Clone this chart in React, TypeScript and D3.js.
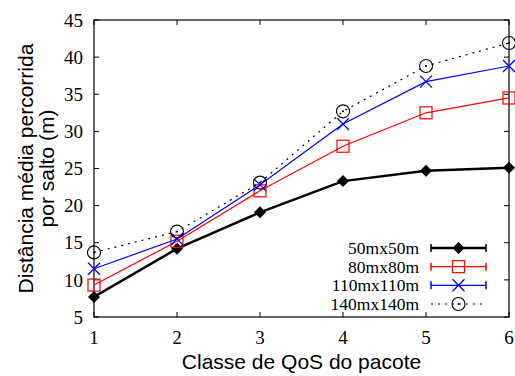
import React from 'react';
import * as d3 from 'd3';

const width = 515;
const height = 376;
const margin = { top: 20, right: 6, bottom: 59, left: 94 };

const classes = [1, 2, 3, 4, 5, 6];
const s50 = [7.7, 14.2, 19.1, 23.3, 24.7, 25.1];
const s80 = [9.3, 15.2, 22.0, 28.0, 32.5, 34.5];
const s110 = [11.5, 15.5, 22.8, 31.0, 36.7, 38.8];
const s140 = [13.7, 16.5, 23.1, 32.7, 38.8, 41.9];
const seriesNames = ['50mx50m', '80mx80m', '110mx110m', '140mx140m'];
const yTicks = [5, 10, 15, 20, 25, 30, 35, 40, 45];

const series = [
	{ name: seriesNames[0], values: s50, color: '#000', width: 2.5, dash: null, marker: 'diamond' },
	{ name: seriesNames[1], values: s80, color: '#ff0000', width: 1.2, dash: null, marker: 'square' },
	{ name: seriesNames[2], values: s110, color: '#0000ff', width: 1.2, dash: null, marker: 'cross' },
	{ name: seriesNames[3], values: s140, color: '#000', width: 1.2, dash: '2,5', marker: 'circle' }
];

const x = d3
	.scaleLinear()
	.domain([1, 6])
	.range([margin.left, width - margin.right]);
const y = d3
	.scaleLinear()
	.domain([5, 45])
	.range([height - margin.bottom, margin.top]);

const line = d3
	.line<number>()
	.x((d, i) => x(classes[i]))
	.y(d => y(d));

// legend rows spread evenly
const legendRow = d3.scalePoint<number>().domain([0, 1, 2, 3]).range([248, 304]);

function Marker({ type, cx, cy, color }) {
	if (type === 'diamond') {
		const r = 6;
		return <path d={`M${cx},${cy - r}L${cx + r},${cy}L${cx},${cy + r}L${cx - r},${cy}Z`} fill={color} />;
	}
	if (type === 'square') {
		return <rect x={cx - 6} y={cy - 6} width={12} height={12} fill="none" stroke={color} strokeWidth={1.2} />;
	}
	if (type === 'cross') {
		const r = 6;
		return (
			<path
				d={`M${cx - r},${cy - r}L${cx + r},${cy + r}M${cx - r},${cy + r}L${cx + r},${cy - r}`}
				stroke={color}
				strokeWidth={1.3}
			/>
		);
	}
	return (
		<g>
			<circle cx={cx} cy={cy} r={6.5} fill="none" stroke={color} strokeWidth={1.1} />
			<circle cx={cx} cy={cy} r={1} fill={color} />
		</g>
	);
}

export default function App() {
	const x0 = margin.left;
	const x1 = width - margin.right;
	const y0 = height - margin.bottom;
	const y1 = margin.top;
	const tick = 5;
	const serif = 'Liberation Serif, Times New Roman, serif';
	const sans = 'Liberation Sans, Arial, sans-serif';
	const legendTextX = 419;
	const legendLineX = [431, 486];

	return (
		<svg width={width} height={height} style={{ position: 'absolute', left: 0, top: 0 }}>
			{/* frame and mirrored ticks */}
			<rect x={x0} y={y1} width={x1 - x0} height={y0 - y1} fill="none" stroke="#000" strokeWidth={1.2} />
			{yTicks.map(t => (
				<g key={'y' + t}>
					<line x1={x0} x2={x0 + tick} y1={y(t)} y2={y(t)} stroke="#000" />
					<line x1={x1} x2={x1 - tick} y1={y(t)} y2={y(t)} stroke="#000" />
					<text x={x0 - 11} y={y(t)} dy="0.35em" textAnchor="end" fontFamily={serif} fontSize={19}>
						{t}
					</text>
				</g>
			))}
			{classes.map(c => (
				<g key={'x' + c}>
					<line x1={x(c)} x2={x(c)} y1={y0} y2={y0 - tick} stroke="#000" />
					<line x1={x(c)} x2={x(c)} y1={y1} y2={y1 + tick} stroke="#000" />
					<text x={x(c)} y={y0 + 27} textAnchor="middle" fontFamily={serif} fontSize={19}>
						{c}
					</text>
				</g>
			))}

			{/* series */}
			{series.map(s => (
				<g key={s.name}>
					<path
						d={line(s.values)}
						fill="none"
						stroke={s.color}
						strokeWidth={s.width}
						strokeDasharray={s.dash || undefined}
					/>
					{s.values.map((v, i) => (
						<Marker key={i} type={s.marker} cx={x(classes[i])} cy={y(v)} color={s.color} />
					))}
				</g>
			))}

			{/* legend */}
			{series.map((s, i) => {
				const ly = legendRow(i);
				return (
					<g key={'lg' + s.name}>
						<text x={legendTextX} y={ly} dy="0.35em" textAnchor="end" fontFamily={serif} fontSize={17.5}>
							{s.name}
						</text>
						<line
							x1={legendLineX[0]}
							x2={legendLineX[1]}
							y1={ly}
							y2={ly}
							stroke={s.color}
							strokeWidth={s.width}
							strokeDasharray={s.dash || undefined}
						/>
						{!s.dash && (
							<g>
								<line x1={legendLineX[0]} x2={legendLineX[0]} y1={ly - 4} y2={ly + 4} stroke={s.color} strokeWidth={1.5} />
								<line x1={legendLineX[1]} x2={legendLineX[1]} y1={ly - 4} y2={ly + 4} stroke={s.color} strokeWidth={1.5} />
							</g>
						)}
						<Marker type={s.marker} cx={(legendLineX[0] + legendLineX[1]) / 2} cy={ly} color={s.color} />
					</g>
				);
			})}

			{/* axis titles */}
			<text x={(x0 + x1) / 2} y={369} textAnchor="middle" fontFamily={sans} fontSize={21}>
				Classe de QoS do pacote
			</text>
			<g transform={`translate(26, ${(y0 + y1) / 2}) rotate(-90)`}>
				<text x={0} y={0} dy="0.35em" textAnchor="middle" fontFamily={sans} fontSize={21}>
					Distância média percorrida
				</text>
				<text x={0} y={21} dy="0.35em" textAnchor="middle" fontFamily={sans} fontSize={21}>
					por salto (m)
				</text>
			</g>
		</svg>
	);
}
